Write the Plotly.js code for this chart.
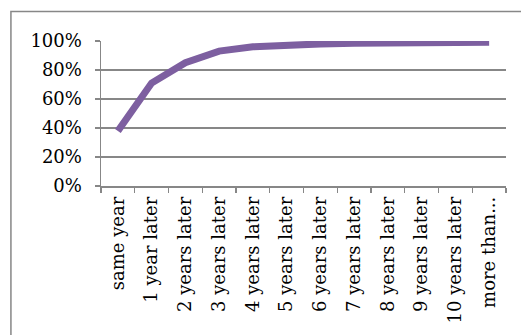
<!DOCTYPE html>
<html>
<head>
<meta charset="utf-8">
<script src="https://cdn.plot.ly/plotly-3.0.1.min.js"></script>
<style>
  html, body { margin: 0; padding: 0; background: #fff; }
  #chart { width: 521px; height: 335px; }
</style>
</head>
<body>
<div id="chart"></div>
<script>
// Cumulative share by time elapsed
const categories = [
  'same year', '1 year later', '2 years later', '3 years later',
  '4 years later', '5 years later', '6 years later', '7 years later',
  '8 years later', '9 years later', '10 years later', 'more than...'
];
const cumulativeShare = [0.38, 0.71, 0.85, 0.93, 0.96, 0.975, 0.98, 0.985, 0.987, 0.99, 0.99, 0.992];
const yTickValues = [0, 0.2, 0.4, 0.6, 0.8, 1.0];

const gridGray = '#878787';
const labelFont = { family: 'DejaVu Serif, serif', size: 18, color: '#000' };

const trace = {
  x: categories,
  y: cumulativeShare,
  type: 'scatter',
  mode: 'lines',
  line: { color: '#7D5FA0', width: 7 },
  hoverinfo: 'skip'
};

const layout = {
  width: 521,
  height: 335,
  margin: { l: 101, r: 15, t: 41, b: 149 },
  paper_bgcolor: '#fff',
  plot_bgcolor: '#fff',
  showlegend: false,
  xaxis: {
    type: 'category',
    range: [-0.5, 11.5],
    tickson: 'boundaries',
    ticks: 'outside',
    ticklen: 5,
    tickwidth: 1.3,
    tickcolor: gridGray,
    showgrid: false,
    showline: true,
    linecolor: gridGray,
    linewidth: 1.5,
    tickangle: -90,
    tickfont: labelFont,
    ticklabelstandoff: 2,
    fixedrange: true
  },
  yaxis: {
    range: [0, 1],
    tickvals: yTickValues,
    tickformat: '.0%',
    ticks: 'outside',
    ticklen: 5,
    tickwidth: 1.3,
    tickcolor: gridGray,
    showgrid: true,
    gridcolor: gridGray,
    gridwidth: 1.5,
    showline: true,
    linecolor: gridGray,
    linewidth: 1.5,
    zeroline: false,
    tickfont: labelFont,
    ticklabelstandoff: 9,
    fixedrange: true
  },
  shapes: [{
    // outer chart frame (right and bottom edges run past the page)
    type: 'rect', xref: 'paper', yref: 'paper',
    x0: -0.2224, x1: 1.5, y0: -2, y1: 1.2034,
    line: { color: gridGray, width: 1.5 },
    fillcolor: 'rgba(0,0,0,0)',
    layer: 'below'
  }]
};

Plotly.newPlot('chart', [trace], layout, { staticPlot: true, displayModeBar: false });
</script>
</body>
</html>
